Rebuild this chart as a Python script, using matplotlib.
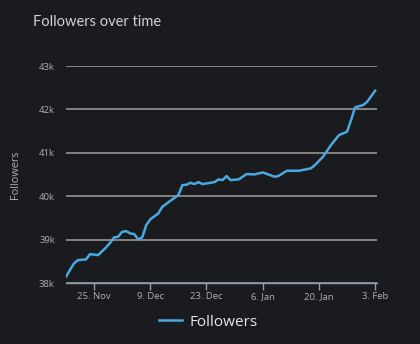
import numpy as np
import pandas as pd
import matplotlib
matplotlib.use('Agg')
import matplotlib.pyplot as plt
from matplotlib.ticker import FuncFormatter

plt.rcParams['font.family'] = ['Open Sans', 'DejaVu Sans']

# Values (days after 18 Nov, followers)
day_offsets = [0, 2, 3, 5, 6, 8, 10, 11, 12, 13, 14, 15, 16, 17, 18, 19, 20, 21,
               23, 24, 26, 28, 29, 30, 31, 32, 33, 34, 36, 37, 38, 39, 40, 41,
               43, 45, 47, 49, 52, 53, 55, 58, 61, 62, 64, 66, 68, 70, 71, 72,
               74, 75, 77]
followers = [38145, 38454, 38530, 38546, 38668, 38645, 38822, 38929, 39053, 39067,
             39182, 39198, 39145, 39129, 39007, 39053, 39336, 39468, 39606, 39758,
             39896, 40028, 40258, 40265, 40311, 40281, 40327, 40281, 40311, 40327,
             40389, 40373, 40465, 40373, 40389, 40512, 40504, 40550, 40449, 40472,
             40588, 40588, 40643, 40719, 40910, 41180, 41410, 41486, 41756, 42048,
             42101, 42177, 42431]
tick_dates = ['2023-11-25', '2023-12-09', '2023-12-23', '2024-01-06',
              '2024-01-20', '2024-02-03']
y_ticks = [38000, 39000, 40000, 41000, 42000, 43000]

bg = '#1a1b1e'
line_col = '#4ba9e1'
text_col = '#b0b0b0'
axis_col = '#8aa0b4'

dates = pd.Timestamp('2023-11-18') + pd.to_timedelta(day_offsets, unit='D')

fig = plt.figure(figsize=(4.2, 3.44), dpi=100, facecolor=bg)
ax = fig.add_axes([0.157, 0.177, 0.741, 0.631], facecolor=bg)

ax.plot(dates, followers, color=line_col, lw=1.8, label='Followers',
        solid_joinstyle='round', zorder=3)

ax.set_ylim(38000, 43000)
ax.set_xlim(dates[0], dates[-1] + pd.Timedelta(days=0.5))
ax.set_yticks(y_ticks)
ax.yaxis.set_major_formatter(FuncFormatter(lambda v, p: f'{int(v / 1000)}k'))
ax.grid(axis='y', color='#a0a0a0', lw=1.1)
ax.set_axisbelow(True)

xt = pd.to_datetime(tick_dates)
ax.set_xticks(xt)
ax.set_xticklabels([f'{d.day}. {d.strftime("%b")}' for d in xt])

for s in ['top', 'right', 'left']:
    ax.spines[s].set_visible(False)
ax.spines['bottom'].set_color(axis_col)
ax.spines['bottom'].set_linewidth(1.0)

ax.tick_params(axis='y', length=0, pad=8, labelsize=6.8, labelcolor=text_col)
ax.tick_params(axis='x', length=5, width=1, color=axis_col, pad=1.5,
               labelsize=6.8, labelcolor=text_col)

ax.set_ylabel('Followers', color=text_col, fontsize=7.8, labelpad=13)

fig.text(33 / 420, 1 - 22 / 344, 'Followers over time', color='#d2d2d2',
         fontsize=10.5, ha='left', va='center', family=['Lato', 'DejaVu Sans'])

fig.legend(loc='center', bbox_to_anchor=(208 / 420, 1 - 322 / 344),
           frameon=False, fontsize=11, handlelength=1.5,
           handletextpad=0.5, labelcolor='#e6e6e6')

fig.savefig('out.png', dpi=100, facecolor=bg)
